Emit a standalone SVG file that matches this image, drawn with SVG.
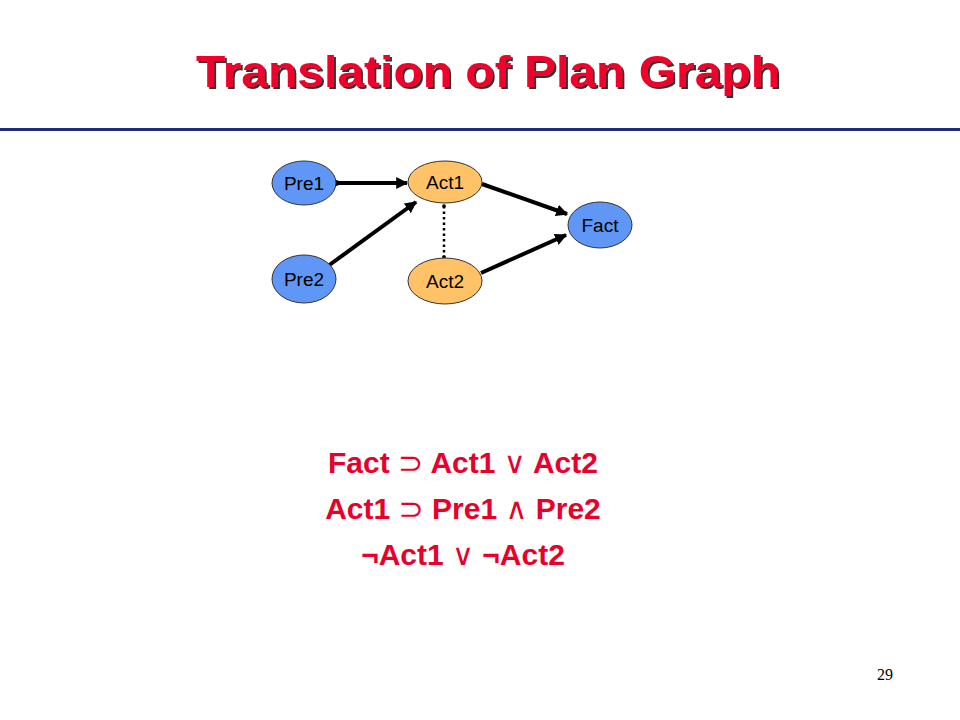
<svg xmlns="http://www.w3.org/2000/svg" width="960" height="720" viewBox="0 0 960 720">
<style>
.blue{fill:#6096F5;stroke:#333;stroke-width:1}
.orange{fill:#FFC266;stroke:#333;stroke-width:1}
.lbl{font-family:"Liberation Sans",Arial,sans-serif;font-size:19px;fill:#000;text-anchor:middle}
.eq{font-family:"Liberation Sans",Arial,sans-serif;font-size:30px;font-weight:bold;fill:#E8002A;text-anchor:middle}
.sym{font-family:"DejaVu Sans",sans-serif;font-weight:normal}
.edge{stroke:#000;stroke-width:4;fill:none;marker-end:url(#ah)}
</style>
<defs>
<marker id="ah" viewBox="0 0 10 10" refX="9" refY="5" markerWidth="3" markerHeight="3" orient="auto" markerUnits="strokeWidth">
<path d="M0,0 L10,5 L0,10 z" fill="#000"/>
</marker>
<marker id="dot" viewBox="0 0 10 10" refX="5" refY="5" markerWidth="1.5" markerHeight="1.5" markerUnits="strokeWidth">
<circle cx="5" cy="5" r="5" fill="#000"/>
</marker>
<filter id="shadow" x="-5%" y="-20%" width="110%" height="140%">
<feDropShadow dx="2" dy="2" stdDeviation="0.4" flood-color="#333" flood-opacity="1"/>
</filter>
</defs>
<rect width="960" height="720" fill="#fff"/>
<g id="title">
<text x="488" y="87" font-family="Liberation Sans,Arial,sans-serif" font-size="44" font-weight="bold" fill="#F0002A" text-anchor="middle" textLength="584" lengthAdjust="spacingAndGlyphs" filter="url(#shadow)">Translation of Plan Graph</text>
</g>
<rect x="0" y="128" width="960" height="3" fill="#1C2D7A"/>
<g id="connectors">
<line class="edge" x1="336" y1="183" x2="407" y2="183" marker-start="url(#dot)"/>
<line class="edge" x1="328" y1="266" x2="416" y2="202"/>
<line class="edge" x1="482" y1="184" x2="567" y2="214"/>
<line class="edge" x1="481" y1="273" x2="566" y2="235"/>
<line x1="444" y1="206" x2="444" y2="257" stroke="#000" stroke-width="2.5" stroke-dasharray="2.5 3" marker-start="url(#dot)" marker-end="url(#dot)"/>
</g>
<g id="Pre1"><ellipse class="blue" cx="304" cy="183" rx="32" ry="22"/><text class="lbl" x="304" y="190">Pre1</text></g>
<g id="Act1"><ellipse class="orange" cx="445" cy="182" rx="37" ry="21"/><text class="lbl" x="445" y="189">Act1</text></g>
<g id="Fact"><ellipse class="blue" cx="600" cy="225" rx="32" ry="23"/><text class="lbl" x="600" y="232">Fact</text></g>
<g id="Pre2"><ellipse class="blue" cx="304" cy="279" rx="32" ry="24"/><text class="lbl" x="304" y="286">Pre2</text></g>
<g id="Act2"><ellipse class="orange" cx="445" cy="281" rx="37" ry="23"/><text class="lbl" x="445" y="288">Act2</text></g>
<g id="formulas">
<text class="eq" x="463" y="473">Fact <tspan class="sym">⊃</tspan> Act1 <tspan class="sym">∨</tspan> Act2</text>
<text class="eq" x="463" y="519">Act1 <tspan class="sym">⊃</tspan> Pre1 <tspan class="sym">∧</tspan> Pre2</text>
<text class="eq" x="463" y="565">¬Act1 <tspan class="sym">∨</tspan> ¬Act2</text>
</g>
<text x="885" y="680" font-family="Liberation Serif,serif" font-size="16" fill="#000" text-anchor="middle">29</text>
</svg>
